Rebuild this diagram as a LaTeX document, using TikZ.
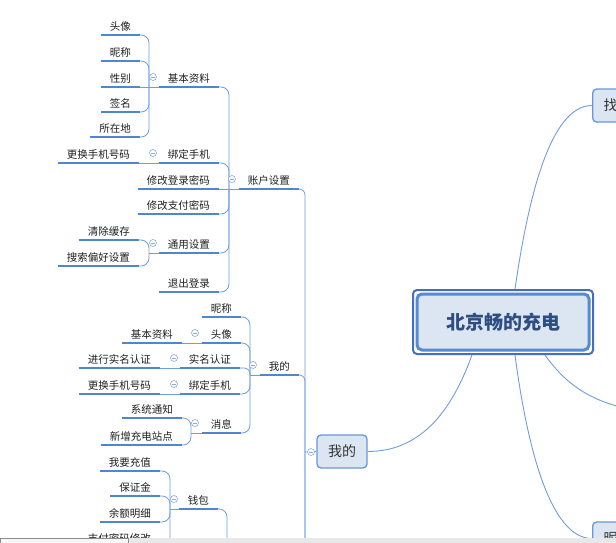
\documentclass[tikz,border=0pt]{standalone}
\usepackage{fontspec}
\setmainfont{Noto Sans CJK SC}
\definecolor{lineblue}{RGB}{112,157,221}
\definecolor{ulblue}{RGB}{79,134,209}
\definecolor{boxfill}{RGB}{220,230,242}
\definecolor{boxline}{RGB}{104,150,216}
\definecolor{hubline}{RGB}{85,139,212}
\definecolor{hubring}{RGB}{72,108,190}
\definecolor{hubtext}{RGB}{46,78,130}
\definecolor{foldblue}{RGB}{140,170,220}

\tikzset{
  uline/.style={draw=ulblue, line width=1.8pt},
  topic/.style={font=\fontsize{10.5}{12}\selectfont, text=black!88, inner xsep=9pt, inner ysep=0pt,
    text height=14pt, text depth=4.5pt, anchor=south east,
    append after command={(\tikzlastnode.south west) edge[uline] (\tikzlastnode.south east)}},
  link/.style={draw=lineblue, line width=0.8pt, rounded corners=8pt},
  hublink/.style={draw=lineblue, line width=0.9pt},
  fold/.style={circle, draw=foldblue, fill=white, line width=0.6pt, minimum size=7pt, inner sep=0pt,
    path picture={\draw[foldblue, line width=0.6pt] ([xshift=-2pt]path picture bounding box.center) -- ([xshift=2pt]path picture bounding box.center);}},
  mainbox/.style={draw=boxline, fill=boxfill, line width=1.3pt, rounded corners=4pt, minimum height=33pt,
    font=\fontsize{14}{16}\selectfont, text=black!80},
  hubbox/.style={draw=hubline, fill=boxfill, line width=3pt, rounded corners=5pt, minimum width=172pt, minimum height=56pt,
    font=\fontsize{19}{22}\selectfont\bfseries, text=hubtext},
  hubouter/.style={draw=hubring, fill=white, line width=2pt, rounded corners=4pt, minimum width=180pt, minimum height=64pt}
}

\begin{document}
\begin{tikzpicture}[x=1pt,y=-1pt]
\useasboundingbox (0,0) rectangle (616,543);
\clip (0,0) rectangle (616,543);

% central topic and main branches
\node[hubouter] (hubo) at (503,322) {};
\node[hubbox] (hub) at (503,322) {北京畅的充电};
\node[mainbox, anchor=west, text width=40pt, inner xsep=11pt, align=left] (zhao) at (592,105.5) {找};
\node[mainbox, anchor=west, text width=40pt, inner xsep=11pt, align=left] (ni) at (592,538.5) {昵};
\node[mainbox, minimum width=50pt] (wd) at (342,451.5) {我的};
\coordinate (rt) at (665,414);

\draw[hublink] ([xshift=12pt]hubo.north) .. controls +(13,-90) and +(-42,0) .. (zhao.west);
\draw[hublink] ([xshift=12pt]hubo.south) .. controls +(12,91) and +(-42,0) .. (ni.west);
\draw[hublink] ([xshift=42pt]hubo.south) to[out=-55,in=175] (rt);
\draw[hublink] ([xshift=-31pt]hubo.south) to[out=-110,in=0] (wd.east);

% 账户设置
\node[topic] (zhsz) at (299,189) {账户设置};
\node[topic] (jbzl) at (219,87) {基本资料};
\node[topic] (tx1) at (140,35) {头像};
\node[topic] (nc1) at (140,61) {昵称};
\node[topic] (xb) at (140,87) {性别};
\node[topic] (qm) at (140,112) {签名};
\node[topic] (szd) at (140,137) {所在地};
\node[topic] (bdsj1) at (219,163) {绑定手机};
\node[topic] (ghsj1) at (139,163) {更换手机号码};
\node[topic] (xgdl) at (219,189) {修改登录密码};
\node[topic] (xgzf) at (219,214) {修改支付密码};
\node[topic] (tysz) at (219,253) {通用设置};
\node[topic] (qchc) at (139,240) {清除缓存};
\node[topic] (ssph) at (139,266) {搜索偏好设置};
\node[topic] (tcdl) at (219,292) {退出登录};

% 我的
\node[topic] (wd2) at (299,375) {我的};
\node[topic] (nc2) at (241,317) {昵称};
\node[topic] (tx2) at (241,343) {头像};
\node[topic] (jbzl2) at (182,343) {基本资料};
\node[topic] (smrz) at (240,368) {实名认证};
\node[topic] (jxsm) at (160,368) {进行实名认证};
\node[topic] (bdsj2) at (240,394) {绑定手机};
\node[topic] (ghsj2) at (160,394) {更换手机号码};
\node[topic] (xx) at (241,433) {消息};
\node[topic] (xttz) at (182,418) {系统通知};
\node[topic] (xzcd) at (182,445) {新增充电站点};

% 钱包
\node[topic] (qb) at (218,509) {钱包};
\node[topic] (wycz) at (160,471) {我要充值};
\node[topic] (bzj) at (160,496) {保证金};
\node[topic] (yemx) at (160,522) {余额明细};
\node[topic] (zfmm) at (160,547) {支付密码修改};

% junctions
\coordinate (jroot) at (305,452);
\coordinate (jzh) at (229,189);
\coordinate (jjb) at (149,87);
\coordinate (jbd1) at (149,163);
\coordinate (jty) at (149,253);
\coordinate (jwd) at (250,375);
\coordinate (jtx) at (191,343);
\coordinate (jsm) at (170,368);
\coordinate (jbd2) at (170,394);
\coordinate (jxx) at (191,433);
\coordinate (jqb) at (170,509);
\coordinate (jqbp) at (227,620);
\coordinate (off1) at (298,575);
\coordinate (off2) at (298,650);

\draw[link] (wd.west) -- (jroot);
\draw[link, rounded corners=6pt] (jroot) |- (zhsz.south east);
\draw[link, rounded corners=6pt] (jroot) |- (wd2.south east);
\draw[link, rounded corners=6pt] (jroot) |- (off1);
\draw[link, rounded corners=6pt] (jroot) |- (off2);

\draw[link] (zhsz.south west) -- (jzh);
\draw[link] (jzh) |- (jbzl.south east);
\draw[link] (jzh) |- (bdsj1.south east);
\draw[link] (jzh) -- (xgdl.south east);
\draw[link] (jzh) |- (xgzf.south east);
\draw[link] (jzh) |- (tysz.south east);
\draw[link] (jzh) |- (tcdl.south east);

\draw[link] (jbzl.south west) -- (jjb);
\draw[link] (jjb) |- (tx1.south east);
\draw[link] (jjb) |- (nc1.south east);
\draw[link] (jjb) -- (xb.south east);
\draw[link] (jjb) |- (qm.south east);
\draw[link] (jjb) |- (szd.south east);

\draw[link] (bdsj1.south west) -- (ghsj1.south east);
\draw[link] (tysz.south west) -- (jty);
\draw[link] (jty) |- (qchc.south east);
\draw[link] (jty) |- (ssph.south east);

\draw[link] (wd2.south west) -- (jwd);
\draw[link] (jwd) |- (nc2.south east);
\draw[link] (jwd) |- (tx2.south east);
\draw[link, rounded corners=6pt] (jwd) |- (smrz.south east);
\draw[link] (jwd) |- (bdsj2.south east);
\draw[link] (jwd) |- (xx.south east);

\draw[link] (tx2.south west) -- (jbzl2.south east);
\draw[link] (smrz.south west) -- (jxsm.south east);
\draw[link] (bdsj2.south west) -- (ghsj2.south east);
\draw[link] (xx.south west) -- (jxx);
\draw[link] (jxx) |- (xttz.south east);
\draw[link] (jxx) |- (xzcd.south east);

\draw[link] (jqbp) |- (qb.south east);
\draw[link] (qb.south west) -- (jqb);
\draw[link] (jqb) |- (wycz.south east);
\draw[link] (jqb) |- (bzj.south east);
\draw[link] (jqb) |- (yemx.south east);
\draw[link] (jqb) |- (zfmm.south east);

% fold markers
\node[fold] (fjb) at (153,77) {};
\node[fold] (fbd1) at (153,153) {};
\node[fold] (fzh) at (232,179) {};
\node[fold] (fty) at (153,243) {};
\node[fold] (fwd2) at (253,365) {};
\node[fold] (ftx) at (195,333) {};
\node[fold] (fsm) at (174,358) {};
\node[fold] (fbd2) at (174,384) {};
\node[fold] (fxx) at (195,423) {};
\node[fold] (fqb) at (174,499) {};
\node[fold] (fwd) at (311,452) {};

% scroll bar
\fill[black!9] (0,538) rectangle (616,543);
\draw[black!45, fill=black!3, line width=0.6pt] (0,538.5) rectangle (128,545);
\end{tikzpicture}
\end{document}
